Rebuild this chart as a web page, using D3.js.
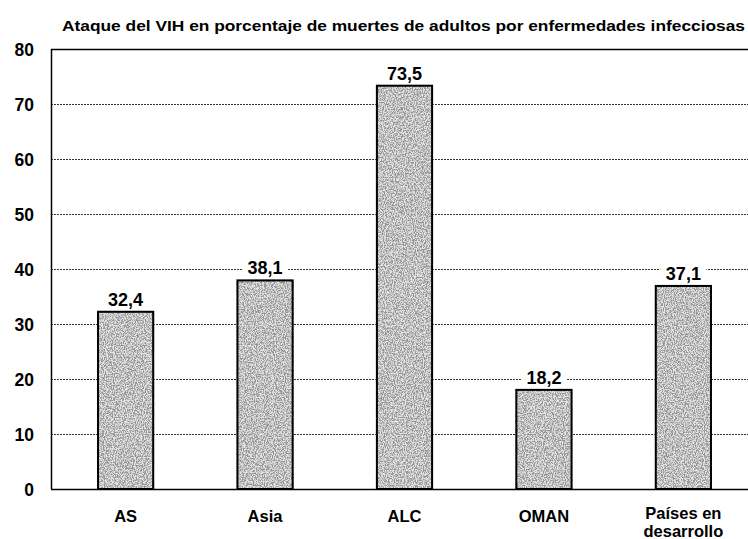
<!DOCTYPE html>
<html><head><meta charset="utf-8">
<script src="https://cdn.jsdelivr.net/npm/d3@7"></script>
<style>html,body{margin:0;padding:0;background:#fff;}svg{display:block;}</style>
</head><body>
<script>
const categories = ["AS", "Asia", "ALC", "OMAN", "Países en desarrollo"];
const categoryLines = [["AS"], ["Asia"], ["ALC"], ["OMAN"], ["Países en", "desarrollo"]];
const values = [32.4, 38.1, 73.5, 18.2, 37.1];
const valueLabels = ["32,4", "38,1", "73,5", "18,2", "37,1"];
const yTicks = [0, 10, 20, 30, 40, 50, 60, 70, 80];
const title = "Ataque del VIH en porcentaje de muertes de adultos por enfermedades infecciosas";

(function () {
const W = 748, H = 539;
const pL = 51, pR = 748, pT = 49, pB = 489;
const font = "'Liberation Sans', Arial, sans-serif";

const svg = d3.select("body").append("svg").attr("width", W).attr("height", H);

const defs = svg.append("defs");
const f = defs.append("filter").attr("id", "grain").attr("x", 0).attr("y", 0).attr("width", 1).attr("height", 1);
f.append("feTurbulence").attr("type", "fractalNoise").attr("baseFrequency", "0.9 0.75").attr("numOctaves", 4).attr("seed", 11).attr("result", "n");
f.append("feColorMatrix").attr("in", "n").attr("type", "matrix")
  .attr("values", "0 0 0 0 0.3  0 0 0 0 0.3  0 0 0 0 0.3  0 0 0 -4.5 2.75").attr("result", "dots");
f.append("feComposite").attr("in", "dots").attr("in2", "SourceGraphic").attr("operator", "in").attr("result", "d2");
const m = f.append("feMerge");
m.append("feMergeNode").attr("in", "SourceGraphic");
m.append("feMergeNode").attr("in", "d2");

const y = d3.scaleLinear().domain([0, 80]).range([pB, pT]);
const x = d3.scaleBand().domain(categories).range([pL, 758]).paddingInner(0.59).paddingOuter(0.33);

svg.append("text").attr("x", 62).attr("y", 31).text(title)
  .attr("font-family", font).attr("font-weight", "bold").attr("font-size", 15.5)
  .attr("textLength", 683).attr("lengthAdjust", "spacingAndGlyphs").attr("fill", "#000");

svg.append("g").selectAll("line").data(yTicks.filter(t => t > 0 && t < 80)).join("line")
  .attr("x1", pL).attr("x2", pR).attr("y1", d => y(d) + 0.5).attr("y2", d => y(d) + 0.5)
  .attr("stroke", "#333").attr("stroke-width", 1).attr("stroke-dasharray", "2,1");

svg.append("line").attr("x1", pL).attr("x2", pR).attr("y1", pT + 0.5).attr("y2", pT + 0.5).attr("stroke", "#000").attr("stroke-width", 1.5);
svg.append("line").attr("x1", pL + 0.5).attr("x2", pL + 0.5).attr("y1", pT).attr("y2", pB).attr("stroke", "#000").attr("stroke-width", 1.5);

svg.append("g").selectAll("text").data(yTicks).join("text")
  .attr("x", 34).attr("y", d => y(d) + 7).attr("text-anchor", "end")
  .attr("font-family", font).attr("font-weight", "bold").attr("font-size", 17.5).text(d => d);

const bars = svg.append("g");
bars.selectAll("rect.fill").data(values).join("rect").attr("class", "fill")
  .attr("x", (d, i) => x(categories[i])).attr("width", x.bandwidth())
  .attr("y", d => y(d)).attr("height", d => pB - y(d))
  .attr("fill", "#e4e4e4").attr("filter", "url(#grain)");
bars.selectAll("rect.edge").data(values).join("rect").attr("class", "edge")
  .attr("x", (d, i) => x(categories[i]) + 1).attr("width", x.bandwidth() - 2)
  .attr("y", d => y(d) + 1).attr("height", d => pB - y(d) - 1)
  .attr("fill", "none").attr("stroke", "#000").attr("stroke-width", 2);

svg.append("line").attr("x1", pL).attr("x2", pR).attr("y1", pB + 0.5).attr("y2", pB + 0.5).attr("stroke", "#000").attr("stroke-width", 1.5);

svg.append("g").selectAll("rect").data(values).join("rect")
  .attr("x", (d, i) => x(categories[i]) + x.bandwidth() / 2 - 23).attr("width", 46)
  .attr("y", d => y(d) - 20).attr("height", 17).attr("fill", "#fff");

svg.append("g").selectAll("text").data(values).join("text")
  .attr("x", (d, i) => x(categories[i]) + x.bandwidth() / 2).attr("y", d => y(d) - 5)
  .attr("text-anchor", "middle").attr("font-family", font).attr("font-weight", "bold").attr("font-size", 18)
  .text((d, i) => valueLabels[i]);

const cl = svg.append("g").selectAll("text").data(categoryLines).join("text")
  .attr("text-anchor", "middle").attr("font-family", font).attr("font-weight", "bold").attr("font-size", 16.5);
cl.each(function (lines, i) {
  const cx = x(categories[i]) + x.bandwidth() / 2;
  const base = lines.length > 1 ? 519 : 522;
  d3.select(this).selectAll("tspan").data(lines).join("tspan")
    .attr("x", cx).attr("y", (d, j) => base + j * 18).text(d => d);
});
})();
</script>
</body></html>
